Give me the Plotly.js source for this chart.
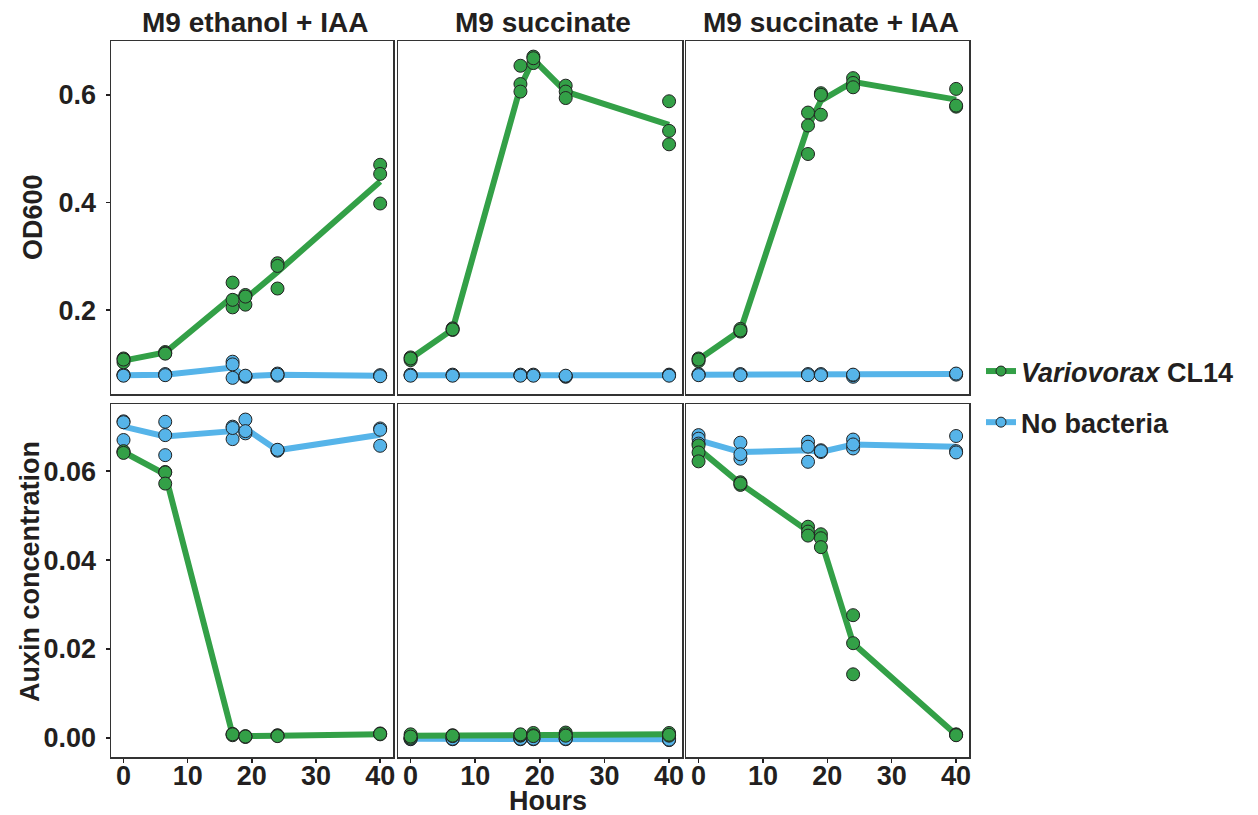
<!DOCTYPE html>
<html>
<head>
<meta charset="utf-8">
<script src="https://cdn.plot.ly/plotly-3.0.1.min.js"></script>
<style>html,body{margin:0;padding:0;background:#fff;}#chart{width:1258px;height:815px;}</style>
</head>
<body>
<div id="chart"></div>
<script>
// ---------- DATA ----------
const hours = [0, 6.5, 17, 19, 24, 40];
const panelTitles = ["M9 ethanol + IAA", "M9 succinate", "M9 succinate + IAA"];
const seriesNames = ["<i>Variovorax</i> CL14", "No bacteria"];
const xTicks = [0, 10, 20, 30, 40];
const odTicks = [0.2, 0.4, 0.6];
const auxinTicks = [0, 0.02, 0.04, 0.06];

// OD600 – line values (means) and replicate points
const odEthIaaCL14Mean = [0.106, 0.121, 0.225, 0.221, 0.271, 0.439];
const odEthIaaCL14Reps = [[0.110,0.103,0.108],[0.122,0.120,0.119],[0.251,0.205,0.219],[0.228,0.210,0.225],[0.287,0.282,0.240],[0.470,0.453,0.398]];
const odEthIaaNoBacMean = [0.079, 0.080, 0.093, 0.077, 0.080, 0.078];
const odEthIaaNoBacReps = [[0.079,0.080,0.078],[0.080,0.081,0.079],[0.104,0.099,0.074],[0.076,0.077,0.078],[0.082,0.078,0.080],[0.078,0.079,0.077]];

const odSuccCL14Mean = [0.110, 0.164, 0.615, 0.666, 0.606, 0.544];
const odSuccCL14Reps = [[0.112,0.107,0.110],[0.166,0.163,0.164],[0.654,0.620,0.606],[0.671,0.659,0.668],[0.617,0.606,0.594],[0.588,0.533,0.508]];
const odSuccNoBacMean = [0.079, 0.079, 0.079, 0.079, 0.077, 0.079];
const odSuccNoBacReps = [[0.079,0.080,0.078],[0.079,0.080,0.078],[0.079,0.080,0.078],[0.079,0.080,0.078],[0.076,0.077,0.078],[0.080,0.079,0.078]];

const odSuccIaaCL14Mean = [0.108, 0.162, 0.541, 0.589, 0.624, 0.591];
const odSuccIaaCL14Reps = [[0.110,0.105,0.108],[0.165,0.160,0.162],[0.567,0.543,0.490],[0.603,0.600,0.563],[0.631,0.622,0.614],[0.611,0.578,0.580]];
const odSuccIaaNoBacMean = [0.080, 0.080, 0.080, 0.080, 0.079, 0.081];
const odSuccIaaNoBacReps = [[0.080,0.081,0.079],[0.080,0.081,0.079],[0.080,0.081,0.079],[0.080,0.081,0.079],[0.076,0.079,0.080],[0.081,0.080,0.082]];

// Auxin concentration – line values (means) and replicate points
const auxEthIaaCL14Mean = [0.0643, 0.0593, 0.0007, 0.0004, 0.0005, 0.0008];
const auxEthIaaCL14Reps = [[0.0643,0.0645,0.0641],[0.0598,0.0597,0.0572],[0.0009,0.0006,0.0008],[0.0002,0.0004,0.0003],[0.0006,0.0005,0.0004],[0.0010,0.0008,0.0009]];
const auxEthIaaNoBacMean = [0.0700, 0.0678, 0.0690, 0.0696, 0.0647, 0.0682];
const auxEthIaaNoBacReps = [[0.0712,0.0670,0.0710],[0.0711,0.0681,0.0636],[0.0700,0.0672,0.0697],[0.0716,0.0685,0.0690],[0.0647,0.0646,0.0648],[0.0696,0.0657,0.0693]];

const auxSuccCL14Mean = [0.0005, 0.0005, 0.0006, 0.0007, 0.0008, 0.0008];
const auxSuccCL14Reps = [[0.0008,0.0000,0.0003],[0.0006,0.0004,0.0005],[0.0005,0.0006,0.0008],[0.0011,0.0006,0.0004],[0.0012,0.0008,0.0005],[0.0011,0.0005,0.0007]];
const auxSuccNoBacMean = [-0.0002, -0.0002, -0.0002, -0.0002, -0.0002, -0.0003];
const auxSuccNoBacReps = [[-0.0001,-0.0003,-0.0002],[-0.0001,-0.0003,-0.0002],[-0.0001,-0.0003,-0.0002],[-0.0001,-0.0003,-0.0002],[-0.0001,-0.0003,-0.0002],[-0.0005,-0.0002,-0.0004]];

const auxSuccIaaCL14Mean = [0.0650, 0.0572, 0.0465, 0.0445, 0.0213, 0.0007];
const auxSuccIaaCL14Reps = [[0.0658,0.0642,0.0622],[0.0575,0.0569,0.0572],[0.0475,0.0464,0.0455],[0.0458,0.0449,0.0429],[0.0276,0.0213,0.0143],[0.0008,0.0007,0.0006]];
const auxSuccIaaNoBacMean = [0.0670, 0.0643, 0.0647, 0.0643, 0.0660, 0.0655];
const auxSuccIaaNoBacReps = [[0.0681,0.0673,0.0662],[0.0664,0.0628,0.0638],[0.0666,0.0655,0.0621],[0.0647,0.0643,0.0645],[0.0671,0.0651,0.0660],[0.0679,0.0645,0.0642]];

// ---------- STYLE / LAYOUT ----------
const GREEN = "#33A047", BLUE = "#56B4E9", INK = "#231F20";
const FONT = "Liberation Sans, Arial, Helvetica, sans-serif";
const W = 1258, H = 815;
const px = x => x / W, py = y => 1 - y / H;

const panels = [
  {cl: [odEthIaaCL14Mean, odEthIaaCL14Reps], nb: [odEthIaaNoBacMean, odEthIaaNoBacReps]},
  {cl: [odSuccCL14Mean, odSuccCL14Reps], nb: [odSuccNoBacMean, odSuccNoBacReps]},
  {cl: [odSuccIaaCL14Mean, odSuccIaaCL14Reps], nb: [odSuccIaaNoBacMean, odSuccIaaNoBacReps]},
  {cl: [auxEthIaaCL14Mean, auxEthIaaCL14Reps], nb: [auxEthIaaNoBacMean, auxEthIaaNoBacReps]},
  {cl: [auxSuccCL14Mean, auxSuccCL14Reps], nb: [auxSuccNoBacMean, auxSuccNoBacReps]},
  {cl: [auxSuccIaaCL14Mean, auxSuccIaaCL14Reps], nb: [auxSuccIaaNoBacMean, auxSuccIaaNoBacReps]}
];

const xDom = [[111, 393], [398, 682], [686, 969]];
const yDom = [[41, 394], [404, 757]];
const yRanges = [[0.044, 0.700], [-0.0043, 0.0751]];

function flatten(reps) {
  const xs = [], ys = [];
  reps.forEach((arr, i) => arr.forEach(v => { xs.push(hours[i]); ys.push(v); }));
  return {xs, ys};
}

const traces = [];
const layout = {
  width: W, height: H,
  margin: {l: 0, r: 0, t: 0, b: 0},
  paper_bgcolor: "#ffffff", plot_bgcolor: "#ffffff",
  font: {family: FONT, color: INK, size: 27, weight: "bold"},
  showlegend: true,
  legend: {
    x: px(981), y: py(347), xanchor: "left", yanchor: "top",
    font: {family: FONT, size: 27, color: INK, weight: "bold"},
    bgcolor: "rgba(0,0,0,0)", tracegroupgap: 13, itemwidth: 30,
    traceorder: "grouped"
  },
  annotations: [], shapes: []
};

panels.forEach((p, k) => {
  const r = Math.floor(k / 3), c = k % 3, i = k + 1;
  const xa = "x" + (i === 1 ? "" : i), ya = "y" + (i === 1 ? "" : i);
  const xKey = "xaxis" + (i === 1 ? "" : i), yKey = "yaxis" + (i === 1 ? "" : i);
  layout[xKey] = {
    domain: [px(xDom[c][0]), px(xDom[c][1])], anchor: ya,
    range: [-1.95, 42], tickvals: xTicks, ticktext: xTicks.map(String),
    showticklabels: r === 1, ticks: r === 1 ? "outside" : "", ticklen: 4, tickwidth: 1.5, tickcolor: INK,
    tickfont: {family: FONT, size: 27, color: INK, weight: "bold"}, ticklabelstandoff: -10,
    showline: true, mirror: true, linecolor: "#333333", linewidth: 1.5,
    showgrid: false, zeroline: false, fixedrange: true
  };
  const isOD = r === 0;
  layout[yKey] = {
    domain: [py(yDom[r][1]), py(yDom[r][0])], anchor: xa,
    range: yRanges[r], tickvals: isOD ? odTicks : auxinTicks,
    tickformat: isOD ? ".1f" : ".2f",
    showticklabels: c === 0, ticks: c === 0 ? "outside" : "", ticklen: 4, tickwidth: 1.5, tickcolor: INK,
    tickfont: {family: FONT, size: 27, color: INK, weight: "bold"}, ticklabelstandoff: 4,
    showline: true, mirror: true, linecolor: "#333333", linewidth: 1.5,
    showgrid: false, zeroline: false, fixedrange: true
  };
  // lines (means)
  [[p.nb, BLUE], [p.cl, GREEN]].forEach(([d, col]) => {
    traces.push({x: hours, y: d[0], xaxis: xa, yaxis: ya, type: "scatter", mode: "lines",
      line: {color: col, width: 6}, showlegend: false, hoverinfo: "skip"});
  });
  // replicate points
  [[p.nb, BLUE], [p.cl, GREEN]].forEach(([d, col]) => {
    const f = flatten(d[1]);
    traces.push({x: f.xs, y: f.ys, xaxis: xa, yaxis: ya, type: "scatter", mode: "markers",
      marker: {color: col, size: 13, line: {color: "#222222", width: 1}}, showlegend: false, hoverinfo: "skip"});
  });
});

// legend entries
[[seriesNames[0], GREEN, "g1"], [seriesNames[1], BLUE, "g2"]].forEach(([nm, col, g]) => {
  traces.push({x: [null], y: [null], name: nm, legendgroup: g, type: "scatter", mode: "lines+markers",
    line: {color: col, width: 6}, marker: {color: col, size: 10, line: {color: "#222222", width: 1}}});
});

// panel titles
panelTitles.forEach((t, c) => {
  layout.annotations.push({text: t, xref: "paper", yref: "paper",
    x: px((xDom[c][0] + xDom[c][1]) / 2 + 3), y: py(23), xanchor: "center", yanchor: "middle",
    showarrow: false, font: {family: FONT, size: 28, color: INK, weight: "bold"}});
});
// axis titles
layout.annotations.push({text: "OD600", xref: "paper", yref: "paper", x: px(33), y: py(217),
  xanchor: "center", yanchor: "middle", textangle: -90, showarrow: false,
  font: {family: FONT, size: 27, color: INK, weight: "bold"}});
layout.annotations.push({text: "Auxin concentration", xref: "paper", yref: "paper", x: px(30), y: py(572),
  xanchor: "center", yanchor: "middle", textangle: -90, showarrow: false,
  font: {family: FONT, size: 27, color: INK, weight: "bold"}});
layout.annotations.push({text: "Hours", xref: "paper", yref: "paper", x: px(548), y: py(801),
  xanchor: "center", yanchor: "middle", showarrow: false,
  font: {family: FONT, size: 27, color: INK, weight: "bold"}});

Plotly.newPlot("chart", traces, layout, {displayModeBar: false, staticPlot: true});
</script>
</body>
</html>
